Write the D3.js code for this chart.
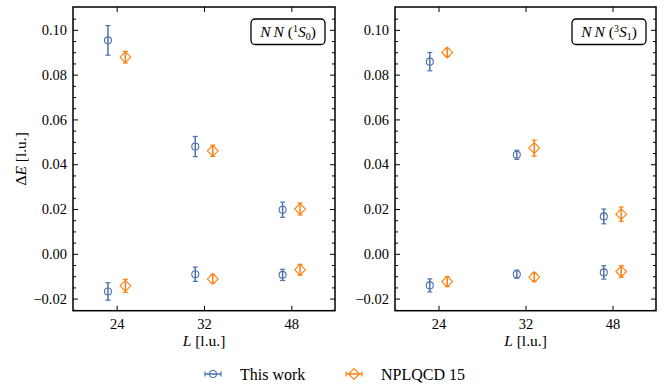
<!DOCTYPE html>
<html>
<head>
<meta charset="utf-8">
<script src="https://cdn.jsdelivr.net/npm/d3@7"></script>
<style>
body { margin: 0; background: #fff; }
svg { display: block; }
svg text { font-family: "Liberation Serif", "DejaVu Serif", serif !important; fill: #000; }
</style>
</head>
<body>
<div id="chart"></div>
<script>
// categories (box size L) and tick values
var sizes = ["24", "32", "48"];
// each series: first three = upper level, last three = lower level
var pointL = ["24", "32", "48", "24", "32", "48"];
var yTicks = [-0.02, 0.00, 0.02, 0.04, 0.06, 0.08, 0.10];
var seriesNames = ["This work", "NPLQCD 15"];

// NN 1S0
var thisWork1S0    = [0.0953, 0.0479, 0.0197, -0.0168, -0.0091, -0.0094];
var thisWork1S0Err = [0.0066, 0.0045, 0.0034, 0.0039, 0.0032, 0.0025];
var nplqcd1S0      = [0.0878, 0.0460, 0.0200, -0.0143, -0.0112, -0.0071];
var nplqcd1S0Err   = [0.0026, 0.0025, 0.0027, 0.0029, 0.0018, 0.0024];

// NN 3S1
var thisWork3S1    = [0.0858, 0.0442, 0.0167, -0.0141, -0.0091, -0.0083];
var thisWork3S1Err = [0.0041, 0.0020, 0.0033, 0.0029, 0.0018, 0.0030];
var nplqcd3S1      = [0.0899, 0.0472, 0.0177, -0.0124, -0.0104, -0.0079];
var nplqcd3S1Err   = [0.0018, 0.0036, 0.0032, 0.0022, 0.0018, 0.0026];

var blue = "#4C72B0", orange = "#FF7F0E";

var width = 664, height = 388;
var yTop = 7, yBottom = 310.7;

var svg = d3.select("#chart").append("svg")
	.attr("width", width)
	.attr("height", height);

var y = d3.scaleLinear()
	.domain([-0.0254, 0.1102])
	.range([yBottom, yTop]);

// minor ticks every 0.005, skipping the majors
var minorTicks = d3.range(-5, 22).filter(function(i) { return i % 4 !== 0; })
	.map(function(i) { return i * 0.005; });

function diamond(r) {
	return "M0," + (-r) + "L" + r + ",0L0," + r + "L" + (-r) + ",0Z";
}

function drawPanel(x0, x1, work, workErr, npl, nplErr, label) {
	var x = d3.scalePoint()
		.domain(sizes)
		.range([x0, x1])
		.padding(0.5);
	var off = x.step() * 0.1;
	var g = svg.append("g");

	// y axis left with inward ticks
	g.append("g")
		.attr("transform", "translate(" + x0 + ",0)")
		.call(d3.axisLeft(y).tickValues(yTicks).tickSize(-5).tickPadding(6)
			.tickFormat(d3.format(".2f")));
	g.append("g")
		.attr("transform", "translate(" + x0 + ",0)")
		.call(d3.axisLeft(y).tickValues(minorTicks).tickSize(-3).tickFormat(""));
	// right side ticks
	g.append("g")
		.attr("transform", "translate(" + x1 + ",0)")
		.call(d3.axisRight(y).tickValues(yTicks).tickSize(-5).tickFormat(""));
	g.append("g")
		.attr("transform", "translate(" + x1 + ",0)")
		.call(d3.axisRight(y).tickValues(minorTicks).tickSize(-3).tickFormat(""));
	// x axis bottom / top
	g.append("g")
		.attr("transform", "translate(0," + yBottom + ")")
		.call(d3.axisBottom(x).tickSize(-5).tickPadding(8));
	g.append("g")
		.attr("transform", "translate(0," + yTop + ")")
		.call(d3.axisTop(x).tickSize(-5).tickFormat(""));

	g.selectAll(".domain").remove();
	g.selectAll(".tick line").attr("stroke", "#000").attr("stroke-width", 1);
	g.selectAll(".tick text").attr("font-size", 14.5);

	// frame
	g.append("rect")
		.attr("x", x0).attr("y", yTop)
		.attr("width", x1 - x0).attr("height", yBottom - yTop)
		.attr("fill", "none").attr("stroke", "#000").attr("stroke-width", 1.5);

	// series points with error bars
	function points(vals, errs, dx, color, shape) {
		var pts = g.append("g").selectAll("g")
			.data(vals.map(function(v, i) { return { L: pointL[i], v: v, e: errs[i] }; }))
			.join("g")
			.attr("transform", function(d) { return "translate(" + (x(d.L) + dx) + ",0)"; });
		pts.append("line")
			.attr("y1", function(d) { return y(d.v + d.e); })
			.attr("y2", function(d) { return y(d.v - d.e); })
			.attr("stroke", color).attr("stroke-width", 1.5);
		pts.selectAll(".cap")
			.data(function(d) { return [d.v + d.e, d.v - d.e]; })
			.join("line")
			.attr("x1", -2.5).attr("x2", 2.5)
			.attr("y1", function(d) { return y(d); })
			.attr("y2", function(d) { return y(d); })
			.attr("stroke", color).attr("stroke-width", 1.2);
		if (shape === "circle") {
			pts.append("circle")
				.attr("cy", function(d) { return y(d.v); })
				.attr("r", 3.5)
				.attr("fill", "none").attr("stroke", color).attr("stroke-width", 1.1);
		} else {
			pts.append("path")
				.attr("d", diamond(5.4))
				.attr("transform", function(d) { return "translate(0," + y(d.v) + ")"; })
				.attr("fill", "none").attr("stroke", color).attr("stroke-width", 1.1);
		}
	}
	points(work, workErr, -off, blue, "circle");
	points(npl, nplErr, off, orange, "diamond");

	// label box top right
	var bx1 = x1 - 10, bx0 = bx1 - 74;
	g.append("rect")
		.attr("x", bx0).attr("y", 19)
		.attr("width", bx1 - bx0).attr("height", 25.5)
		.attr("rx", 4)
		.attr("fill", "#fff").attr("stroke", "#000").attr("stroke-width", 1.3);
	var t = g.append("text")
		.attr("x", (bx0 + bx1) / 2).attr("y", 37)
		.attr("text-anchor", "middle")
		.attr("font-size", 15.5);
	t.append("tspan").attr("font-style", "italic").text("N\u2009N");
	t.append("tspan").text(" (");
	t.append("tspan").attr("font-size", 10).attr("dy", -5.5).text(label[0]);
	t.append("tspan").attr("font-style", "italic").attr("dy", 5.5).text("S");
	t.append("tspan").attr("font-size", 10).attr("dy", 3).text(label[1]);
	t.append("tspan").attr("dy", -3).text(")");

	// x label
	var xl = g.append("text")
		.attr("x", (x0 + x1) / 2).attr("y", 346)
		.attr("text-anchor", "middle")
		.attr("font-size", 15.5);
	xl.append("tspan").attr("font-style", "italic").text("L");
	xl.append("tspan").text(" [l.u.]");
}

drawPanel(73, 335, thisWork1S0, thisWork1S0Err, nplqcd1S0, nplqcd1S0Err, ["1", "0"]);
drawPanel(395, 656, thisWork3S1, thisWork3S1Err, nplqcd3S1, nplqcd3S1Err, ["3", "1"]);

// y label
var yl = svg.append("text")
	.attr("transform", "translate(26," + ((yTop + yBottom) / 2) + ") rotate(-90)")
	.attr("text-anchor", "middle")
	.attr("font-size", 15.5);
yl.append("tspan").text("\u0394");
yl.append("tspan").attr("font-style", "italic").text("E");
yl.append("tspan").text(" [l.u.]");

// legend
var legend = svg.append("g");
var legendItems = [
	{ name: seriesNames[0], color: blue, shape: "circle", x: 213 },
	{ name: seriesNames[1], color: orange, shape: "diamond", x: 354 }
];
legendItems.forEach(function(d) {
	var lg = legend.append("g").attr("transform", "translate(" + d.x + ",374)");
	lg.append("line").attr("x1", -8).attr("x2", 8)
		.attr("stroke", d.color).attr("stroke-width", 1.5);
	lg.selectAll(".cap").data([-8, 8]).join("line")
		.attr("x1", function(c) { return c; }).attr("x2", function(c) { return c; })
		.attr("y1", -2.5).attr("y2", 2.5)
		.attr("stroke", d.color).attr("stroke-width", 1.2);
	if (d.shape === "circle") {
		lg.append("circle").attr("r", 3.5).attr("fill", "none")
			.attr("stroke", d.color).attr("stroke-width", 1.1);
	} else {
		lg.append("path").attr("d", diamond(5.4)).attr("fill", "none")
			.attr("stroke", d.color).attr("stroke-width", 1.1);
	}
	lg.append("text").attr("x", 27).attr("y", 5.5)
		.attr("font-size", 16).text(d.name);
});
</script>
</body>
</html>
